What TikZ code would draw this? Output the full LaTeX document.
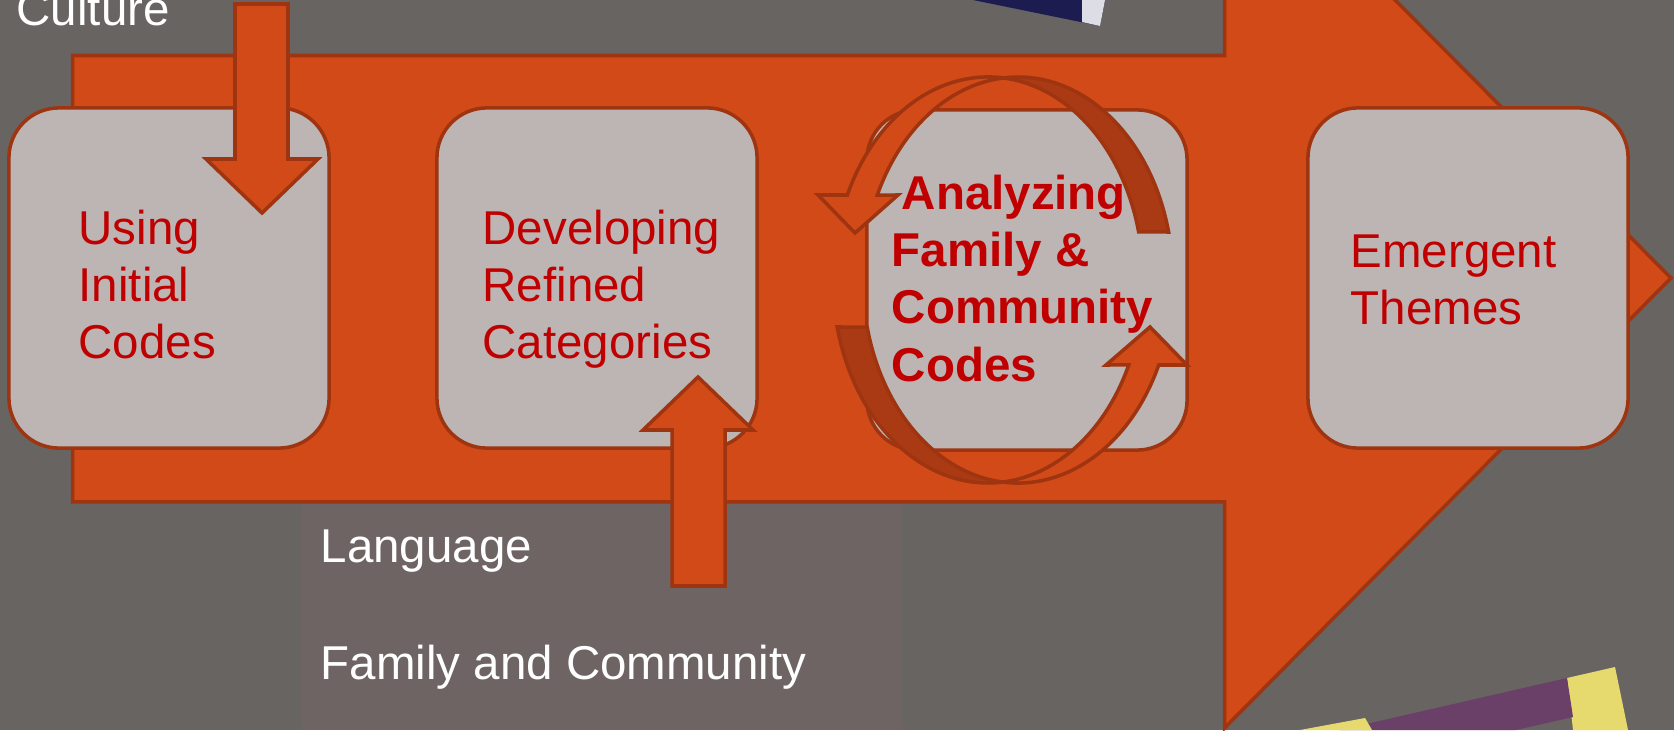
\documentclass[tikz,border=0pt]{standalone}
\usepackage{fontspec}
\setmainfont{Liberation Sans}
\definecolor{bggray}{HTML}{686462}
\definecolor{panelgray}{HTML}{6D6463}
\definecolor{flow}{HTML}{D14A18}
\definecolor{flowedge}{HTML}{9E3510}
\definecolor{flowdark}{HTML}{AA3A14}
\definecolor{stagefill}{HTML}{BDB4B4}
\definecolor{stagetext}{HTML}{C00000}
\definecolor{booknavy}{HTML}{1C1C50}
\definecolor{bookyellow}{HTML}{E6DA6E}
\definecolor{bookpurple}{HTML}{6A3F68}
\begin{document}
\begin{tikzpicture}[x=0.01cm,y=0.01cm,
    stage/.style={draw=flowedge,line width=1pt,fill=stagefill,rounded corners=5mm,
      inner sep=0pt,minimum width=3.2cm,minimum height=3.4cm},
    blockarrow/.style={draw=flowedge,line width=1pt,fill=flow},
    cyclearrow/.style={draw=flowedge,line width=1pt,fill=flow},
    stagelabel/.style={anchor=north west,inner sep=0pt,align=left,text=stagetext,
      font=\fontsize{13.5}{16.25}\selectfont},
    sidelabel/.style={anchor=base west,inner sep=0pt,text=white,
      font=\fontsize{13.5}{16.25}\selectfont}]
  \useasboundingbox (0,0) rectangle (1674,730);
  \clip (0,0) rectangle (1674,730);
  \fill[bggray] (0,0) rectangle (1674,730);
  \fill[panelgray] (302,0) rectangle (902,228);
  \fill[booknavy] (973,730) -- (1105,730) -- (1100,704) -- cycle;
  \fill[white!85!booknavy] (1082,730) -- (1105,730) -- (1100,704) -- (1082,708) -- cycle;
  \fill[bookyellow] (1567,52) -- (1615,63) -- (1628,0) -- (1573,0) -- cycle;
  \fill[bookpurple] (1340,0) -- (1567,52) -- (1573,13) -- (1516,0) -- cycle;
  \fill[bookyellow] (1300,0) -- (1365,12) -- (1372,0) -- cycle;

  \draw[blockarrow] (72.6,228.2) -- (72.6,674.5) -- (1224.5,674.5) -- (1224.5,902)
    -- (1671,452) -- (1224.5,2) -- (1224.5,228.2) -- cycle;

  \node[stage] (initial) at (169,452) {};
  \node[stage] (refined) at (597,452) {};
  \node[stage] (analyzing) at (1027,450) {};
  \node[stage] (themes) at (1468,452) {};

  \draw[blockarrow] (235,726) -- (288,726) -- (288,571) -- (318,571) -- (262,517)
    -- (206,571) -- (235,571) -- cycle;
  \draw[blockarrow] (672,144) -- (725,144) -- (725,300) -- (753,300) -- (698,353)
    -- (643,300) -- (672,300) -- cycle;

  \draw[cyclearrow,path picture={\fill[flowdark] (1003,300) rectangle (1250,700);}]
    (1168.6,498) arc[start angle=13.7,end angle=155.25,x radius=155,y radius=203]
    -- (898,535) -- (855,497) -- (818,535) -- (847.3,535)
    arc[start angle=155.25,end angle=13.7,x radius=155,y radius=203] -- cycle;
  \draw[cyclearrow,path picture={\fill[flowdark] (750,200) rectangle (1003,600);}]
    (837.2,403) arc[start angle=193.4,end angle=335.25,x radius=155,y radius=203]
    -- (1106,365) -- (1150,403) -- (1187,365) -- (1158.7,365)
    arc[start angle=335.25,end angle=193.4,x radius=155,y radius=203] -- cycle;

  \node[stagelabel] (initialtext) at (78,521) {Using\\Initial\\Codes};
  \node[stagelabel] (refinedtext) at (482,521) {Developing\\Refined\\Categories};
  \node[stagelabel,font=\fontsize{13.5}{16.25}\selectfont\bfseries] (analyzingtext)
    at (891,555.5) {\hspace*{1mm}Analyzing\\Family \&\\Community\\Codes};
  \node[stagelabel] (themestext) at (1350,496) {Emergent\\Themes};

  \node[sidelabel] (culture) at (16,704.4) {Culture};
  \node[sidelabel] (language) at (320,167.4) {Language};
  \node[sidelabel] (community) at (320,51) {Family and Community};
\end{tikzpicture}
\end{document}
